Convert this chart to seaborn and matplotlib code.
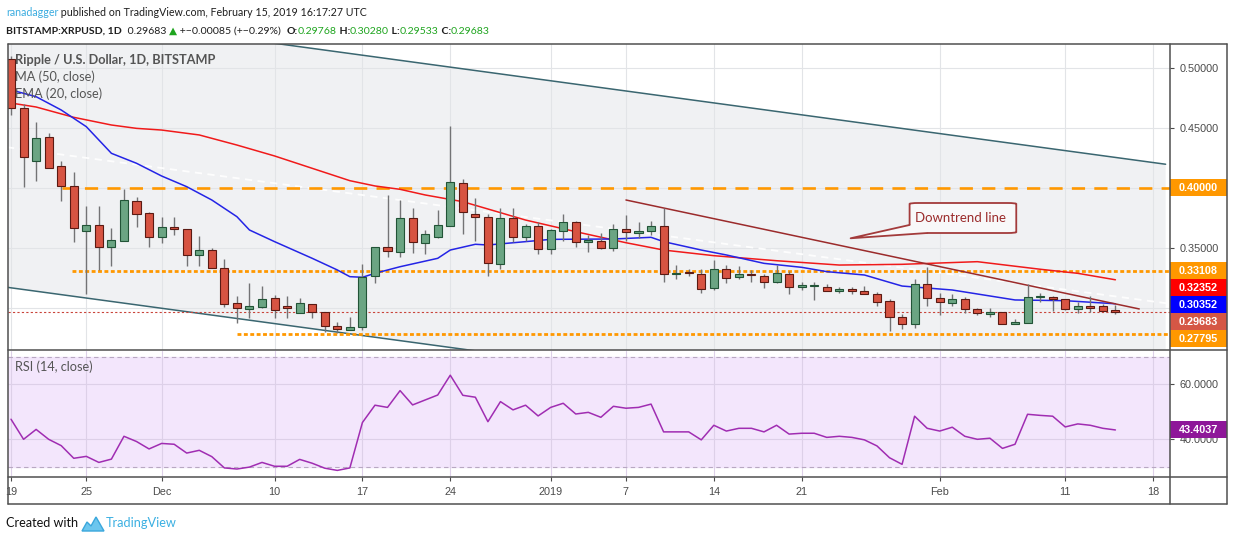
import numpy as np
import pandas as pd
import seaborn as sns
import matplotlib.pyplot as plt
from matplotlib.patches import Rectangle, Polygon, FancyBboxPatch
from matplotlib.lines import Line2D
from matplotlib.transforms import blended_transform_factory

W, H = 1234, 541

# ---------------- data (day 0 = 2018-11-19) ----------------
day = list(range(89))
opens = [0.5075, 0.4664, 0.4228, 0.4422, 0.4183, 0.4019, 0.3644, 0.3692, 0.3511, 0.3561,
         0.3889, 0.3789, 0.3589, 0.3672, 0.3656, 0.3442, 0.3483, 0.3331, 0.3039, 0.2989,
         0.3011, 0.3081, 0.3011, 0.2956, 0.3031, 0.2964, 0.2853, 0.2817, 0.2839, 0.3267,
         0.3511, 0.3464, 0.3747, 0.3539, 0.3594, 0.3686, 0.4039, 0.3781, 0.3761, 0.3364,
         0.3747, 0.3589, 0.3681, 0.3489, 0.3639, 0.3714, 0.3547, 0.3558, 0.3497, 0.3656,
         0.3622, 0.3639, 0.3681, 0.3281, 0.3294, 0.3281, 0.3164, 0.3322, 0.3258, 0.3275,
         0.3269, 0.3219, 0.3281, 0.3172, 0.3181, 0.3178, 0.3144, 0.3158, 0.3142, 0.3114,
         0.3058, 0.2928, 0.2864, 0.3197, 0.3081, 0.3039, 0.3075, 0.2989, 0.2947, 0.2964,
         0.2864, 0.2878, 0.3089, 0.3092, 0.3075, 0.2989, 0.3011, 0.3017, 0.29768]
highs = [0.5100, 0.4700, 0.4553, 0.4461, 0.4228, 0.4131, 0.3853, 0.3853, 0.3664, 0.3992,
         0.3928, 0.3797, 0.3761, 0.3761, 0.3656, 0.3603, 0.3497, 0.3408, 0.3100, 0.3206,
         0.3183, 0.3108, 0.3100, 0.3086, 0.3031, 0.2964, 0.2886, 0.2928, 0.3364, 0.3511,
         0.3942, 0.3900, 0.3831, 0.3650, 0.3817, 0.4517, 0.4072, 0.3914, 0.3783, 0.3831,
         0.3831, 0.3700, 0.3719, 0.3658, 0.3783, 0.3725, 0.3608, 0.3622, 0.3700, 0.3775,
         0.3719, 0.3725, 0.3831, 0.3358, 0.3322, 0.3322, 0.3400, 0.3358, 0.3350, 0.3317,
         0.3283, 0.3358, 0.3311, 0.3219, 0.3214, 0.3197, 0.3172, 0.3172, 0.3186, 0.3136,
         0.3072, 0.2947, 0.3242, 0.3339, 0.3122, 0.3114, 0.3089, 0.2997, 0.3003, 0.2964,
         0.2906, 0.3197, 0.3122, 0.3103, 0.3075, 0.3053, 0.3100, 0.3031, 0.30280]
lows = [0.4608, 0.4011, 0.4061, 0.4164, 0.3892, 0.3553, 0.3117, 0.3317, 0.3350, 0.3561,
        0.3678, 0.3506, 0.3539, 0.3608, 0.3353, 0.3353, 0.3331, 0.3011, 0.2872, 0.2914,
        0.2997, 0.2919, 0.2919, 0.2956, 0.2914, 0.2803, 0.2789, 0.2817, 0.2817, 0.3211,
        0.3428, 0.3428, 0.3461, 0.3450, 0.3581, 0.3686, 0.3617, 0.3561, 0.3269, 0.3322,
        0.3553, 0.3561, 0.3447, 0.3450, 0.3561, 0.3511, 0.3469, 0.3489, 0.3478, 0.3561,
        0.3581, 0.3611, 0.3214, 0.3239, 0.3267, 0.3122, 0.3150, 0.3206, 0.3239, 0.3219,
        0.3164, 0.3206, 0.3114, 0.3150, 0.3067, 0.3144, 0.3122, 0.3114, 0.3114, 0.3017,
        0.2811, 0.2822, 0.2836, 0.3017, 0.2942, 0.3017, 0.2956, 0.2942, 0.2928, 0.2864,
        0.2864, 0.2872, 0.3053, 0.2975, 0.2983, 0.2956, 0.2964, 0.2978, 0.29533]
closes = [0.4667, 0.4256, 0.4414, 0.4169, 0.4019, 0.3664, 0.3692, 0.3511, 0.3567, 0.3900,
          0.3781, 0.3589, 0.3672, 0.3656, 0.3442, 0.3483, 0.3331, 0.3031, 0.2997, 0.3017,
          0.3072, 0.2983, 0.3003, 0.3039, 0.2964, 0.2853, 0.2822, 0.2839, 0.3261, 0.3511,
          0.3475, 0.3747, 0.3547, 0.3614, 0.3689, 0.4047, 0.3797, 0.3761, 0.3372, 0.3747,
          0.3589, 0.3681, 0.3489, 0.3647, 0.3714, 0.3547, 0.3569, 0.3497, 0.3656, 0.3631,
          0.3639, 0.3681, 0.3281, 0.3289, 0.3289, 0.3156, 0.3322, 0.3247, 0.3281, 0.3272,
          0.3219, 0.3289, 0.3178, 0.3189, 0.3192, 0.3144, 0.3158, 0.3139, 0.3114, 0.3053,
          0.2928, 0.2864, 0.3197, 0.3081, 0.3047, 0.3072, 0.2989, 0.2956, 0.2967, 0.2864,
          0.2883, 0.3089, 0.3092, 0.3075, 0.2989, 0.3017, 0.3003, 0.2978, 0.29683]
rsi = [47.3, 40.0, 43.6, 40.0, 37.7, 33.1, 33.8, 31.6, 32.8, 41.1,
       39.2, 36.5, 38.5, 38.2, 35.0, 36.0, 33.7, 29.6, 29.2, 29.9,
       31.6, 30.2, 30.2, 32.7, 31.3, 29.5, 28.7, 29.6, 46.1, 52.4,
       51.6, 57.7, 52.5, 54.3, 56.1, 63.3, 56.0, 55.3, 46.4, 53.7,
       50.7, 52.4, 48.5, 51.6, 53.1, 49.2, 49.8, 48.0, 52.0, 51.3,
       51.6, 52.8, 42.7, 42.7, 42.7, 39.8, 45.1, 43.0, 44.0, 44.0,
       42.7, 45.1, 41.9, 42.2, 42.2, 40.7, 41.1, 40.7, 39.8, 37.6,
       33.3, 30.9, 48.4, 44.0, 43.0, 44.4, 41.1, 40.0, 40.4, 36.7,
       38.2, 49.1, 48.7, 48.4, 44.5, 45.6, 45.1, 44.0, 43.4037]

ma50_day = [0, 2, 5, 8, 10, 12, 15, 18, 21, 24, 27, 29, 31, 33, 36, 38, 41, 45, 49, 52,
            56, 61, 66, 71, 77, 82, 85, 88]
ma50_val = [0.4708, 0.4675, 0.4589, 0.4525, 0.4497, 0.4483, 0.4442, 0.4358, 0.4267, 0.4164,
            0.4061, 0.4017, 0.3989, 0.3942, 0.3886, 0.3825, 0.3733, 0.3636, 0.3544, 0.3483,
            0.3436, 0.3394, 0.3358, 0.3364, 0.3386, 0.3323, 0.3289, 0.32352]
ema20_day = [0, 2, 4, 6, 8, 10, 12, 14, 16, 18, 19, 21, 24, 26, 27, 28, 29, 31, 34, 35,
             37, 38, 41, 43, 48, 51, 52, 55, 57, 60, 63, 65, 68, 71, 75, 80, 84, 88]
ema20_val = [0.4817, 0.4761, 0.4650, 0.4511, 0.4289, 0.4206, 0.4100, 0.4011, 0.3900, 0.3761,
             0.3650, 0.3553, 0.3414, 0.3317, 0.3261, 0.3256, 0.3289, 0.3344, 0.3414, 0.3483,
             0.3531, 0.3525, 0.3553, 0.3572, 0.3575, 0.3589, 0.3553, 0.3483, 0.3442, 0.3372,
             0.3339, 0.3303, 0.3275, 0.3183, 0.3150, 0.3067, 0.3061, 0.30352]

tick_days = [0, 6, 12, 21, 28, 35, 43, 49, 56, 63, 74, 84, 91]
tick_labels = ["19", "25", "Dec", "10", "17", "24", "2019", "7", "14", "21", "Feb", "11", "18"]
price_ticks = [0.30, 0.35, 0.40, 0.45, 0.50]
price_tick_labels = ["", "0.35000", "", "0.45000", "0.50000"]  # others sit under the boxes
rsi_ticks = [40, 60]

# drawings on the chart
level_high = 0.40000
level_mid = 0.33108
level_low = 0.27795
channel_low = [(-0.34, 0.3173), (92.0, 0.1862)]
channel_high = [(-0.34, 0.5509), (92.0, 0.4198)]
downtrend = [(49.0, 0.3900), (89.9, 0.2992)]
faint_line = [(-0.32, 0.4340), (92.1, 0.3039)]

# ---------------- style ----------------
sns.set_theme(style="white")
plt.rcParams['font.family'] = ['Liberation Sans', 'DejaVu Sans']
LABEL_FONT = ['Lato', 'DejaVu Sans']
AXIS_GREY = "#4b4b4b"
UP, UP_EDGE = "#6ba583", "#225437"
DOWN, DOWN_EDGE = "#d75442", "#5b1a13"
ORANGE = "#ff9800"

fig = plt.figure(figsize=(W / 100, H / 100), dpi=100)
fig.patch.set_facecolor("white")


def fx(px):
    return px / W


def fy(py):
    return 1 - py / H


X0, X1 = -0.24, 92.35
ax = fig.add_axes([fx(8), fy(350), fx(1170) - fx(8), fy(44) - fy(350)])
axr = fig.add_axes([fx(8), fy(477), fx(1170) - fx(8), fy(351) - fy(477)])
for a in (ax, axr):
    a.set_facecolor("white")
    for s in a.spines.values():
        s.set_visible(False)

df = pd.DataFrame({"day": day, "open": opens, "high": highs, "low": lows,
                   "close": closes, "rsi": rsi})
df_ma = pd.DataFrame({"day": ma50_day, "val": ma50_val})
df_ema = pd.DataFrame({"day": ema20_day, "val": ema20_val})

# ---------------- price pane ----------------
cx = [channel_low[0][0], channel_low[1][0], channel_high[1][0], channel_high[0][0]]
cy = [channel_low[0][1], channel_low[1][1], channel_high[1][1], channel_high[0][1]]
ax.add_patch(Polygon(list(zip(cx, cy)), closed=True, facecolor="#f0f1f3",
                     edgecolor="none", zorder=0.2))
ax.set_axisbelow(True)
ax.grid(True, color="#e2e4e7", lw=0.8)

ax.plot([p[0] for p in channel_high], [p[1] for p in channel_high], color="#3a6670", lw=1.1, zorder=2)
ax.plot([p[0] for p in channel_low], [p[1] for p in channel_low], color="#3a6670", lw=1.1, zorder=2)
ax.plot([p[0] for p in faint_line], [p[1] for p in faint_line], color="white", lw=1.3,
        dashes=(4, 3), alpha=0.9, zorder=2)

ax.plot([4.06, X1], [level_high] * 2, color=ORANGE, lw=1.9, dashes=(5, 3.5), zorder=2.5)
ax.plot([4.86, X1], [level_mid] * 2, color=ORANGE, lw=2.0, dashes=(1.4, 0.9), zorder=2.5)
ax.plot([18.0, X1], [level_low] * 2, color=ORANGE, lw=2.0, dashes=(1.4, 0.9), zorder=2.5)
ax.plot([X0, X1], [closes[-1]] * 2, color="#c9443a", lw=0.8, dashes=(2, 2), zorder=2.5)

sns.lineplot(data=df_ma, x="day", y="val", ax=ax, color="#f01a1a", lw=1.1, zorder=3)
sns.lineplot(data=df_ema, x="day", y="val", ax=ax, color="#2424e6", lw=1.1, zorder=3)
ax.plot([p[0] for p in downtrend], [p[1] for p in downtrend], color="#9b2b2b", lw=1.1, zorder=3)

o = np.array(opens)
c = np.array(closes)
up = c >= o
ax.vlines(df["day"], df["low"], df["high"], color="#737375", lw=1.0, zorder=4)
ax.bar(df["day"], np.maximum(np.abs(c - o), 0.0012), bottom=np.minimum(o, c), width=0.64,
       color=np.where(up, UP, DOWN), edgecolor=np.where(up, UP_EDGE, DOWN_EDGE),
       lw=0.8, zorder=5)

# callout
ax.add_patch(FancyBboxPatch((71.6, 0.3625), 8.5, 0.0250,
                            boxstyle="round,pad=0,rounding_size=0.7",
                            mutation_aspect=0.0011,
                            facecolor="#f8f8f9", edgecolor="#a33b3b", lw=1.3, zorder=6))
tip, p1, p2 = (66.9, 0.3581), (71.6, 0.3692), (73.0, 0.3625)
ax.add_patch(Polygon([tip, p1, (72.2, 0.3680), (73.0, 0.3640), p2], closed=True,
                     facecolor="#f8f8f9", edgecolor="none", zorder=6.5))
ax.plot([p1[0], tip[0], p2[0]], [p1[1], tip[1], p2[1]], color="#a33b3b", lw=1.3, zorder=6.6)

ax.set_xlim(X0, X1)
ax.set_ylim(0.265, 0.52)
ax.set_xticks(tick_days)
ax.set_yticks(price_ticks)
ax.set_yticklabels(price_tick_labels)
ax.yaxis.tick_right()
ax.tick_params(axis="x", length=0, labelbottom=False)
ax.tick_params(axis="y", length=3, width=0.8, color=AXIS_GREY, pad=4,
               labelsize=7.8, labelcolor=AXIS_GREY)
ax.set_xlabel("")
ax.set_ylabel("")

# price scale boxes (stacked so they do not overlap, like the platform does)
trans = blended_transform_factory(fig.transFigure, ax.transData)
box_h = 17 / 1200
boxes = [(level_high, ORANGE), (level_mid, ORANGE), (ma50_val[-1], "#ff0000"),
         (ema20_val[-1], "#0000ff"), (closes[-1], "#d55745"), (level_low, ORANGE)]
prev = None
for val, col in boxes:
    pos = val if prev is None or prev - val >= box_h else prev - box_h
    prev = pos
    ax.add_patch(Rectangle((fx(1170), pos - box_h / 2), fx(1227) - fx(1170), box_h,
                           transform=trans, facecolor=col, edgecolor="none",
                           clip_on=False, zorder=10))
    ax.text(fx(1179), pos, f"{val:.5f}", transform=trans, color="white", fontsize=7.8,
            fontweight="bold", va="center", ha="left", clip_on=False, zorder=11)

# ---------------- RSI pane ----------------
axr.axhspan(30, 70, color="#f3e6fc", zorder=0.1)
axr.set_axisbelow(True)
axr.grid(True, color="#ddd0e8", lw=0.8)
axr.axhline(70, color="#b8a8c2", lw=0.8, dashes=(4, 3), zorder=1)
axr.axhline(30, color="#b8a8c2", lw=0.8, dashes=(4, 3), zorder=1)
sns.lineplot(data=df, x="day", y="rsi", ax=axr, color="#a02db2", lw=1.1, zorder=3)
axr.set_xlim(X0, X1)
axr.set_ylim(26.3, 72.1)
axr.set_xticks(tick_days)
axr.set_xticklabels(tick_labels)
axr.set_yticks(rsi_ticks)
axr.set_yticklabels([f"{v:.4f}" for v in rsi_ticks])
axr.yaxis.tick_right()
axr.tick_params(axis="x", length=3, width=0.8, color=AXIS_GREY, pad=4.5,
                labelsize=7.8, labelcolor=AXIS_GREY, bottom=True)
axr.tick_params(axis="y", length=3, width=0.8, color=AXIS_GREY, pad=4,
                labelsize=7.8, labelcolor=AXIS_GREY)
axr.set_xlabel("")
axr.set_ylabel("")
rtrans = blended_transform_factory(fig.transFigure, axr.transData)
rbox_h = 17 / 2.75
axr.add_patch(Rectangle((fx(1170), rsi[-1] - rbox_h / 2), fx(1227) - fx(1170), rbox_h,
                        transform=rtrans, facecolor="#8e1799", edgecolor="none",
                        clip_on=False, zorder=10))
axr.text(fx(1179), rsi[-1], f"{rsi[-1]:.4f}", transform=rtrans, color="white", fontsize=7.8,
         fontweight="bold", va="center", ha="left", clip_on=False, zorder=11)

# ---------------- frame ----------------
FRAME = "#505050"
for (xa, xb, ya, yb) in [(8, 1227, 44, 44), (8, 1227, 504, 504), (8, 1227, 350, 350),
                         (8, 1227, 477, 477), (8, 8, 44, 504), (1227, 1227, 44, 504),
                         (1170, 1170, 44, 504)]:
    fig.add_artist(Line2D([fx(xa), fx(xb)], [fy(ya), fy(yb)], transform=fig.transFigure,
                          color=FRAME, lw=1.1, zorder=20))

# ---------------- texts ----------------
renderer = fig.canvas.get_renderer()


def seg_widths(segs, size, family):
    out = []
    for s, col, wt in segs:
        t = fig.text(0, 0, "|" + s + "|", fontsize=size, fontweight=wt, family=family)
        b = fig.text(0, 0, "||", fontsize=size, fontweight=wt, family=family)
        out.append(t.get_window_extent(renderer).width - b.get_window_extent(renderer).width)
        t.remove()
        b.remove()
    return out


def chain_text(segs, x0, x1, yc, family=LABEL_FONT, zorder=25):
    base = 10.0
    size = base * (x1 - x0) / sum(seg_widths(segs, base, family))
    x = x0
    for (s, col, wt), wd in zip(segs, seg_widths(segs, size, family)):
        fig.text(fx(x), fy(yc), s, color=col, fontweight=wt, fontsize=size, family=family,
                 ha="left", va="center", zorder=zorder)
        x += wd


GREEN = "#1fa51f"
DARK = "#1e1e1e"
chain_text([("ranadagger", "#3aace0", "normal"),
            (" published on TradingView.com, February 15, 2019 16:17:27 UTC", DARK, "normal")],
           6, 368, 12)
chain_text([("BITSTAMP:XRPUSD, 1D", DARK, "bold"),
            (f"  {closes[-1]:.5f} ", DARK, "normal"),
            ("\u25b2", GREEN, "normal"),
            (" +\u2212" + f"{opens[-1] - closes[-1]:.5f}" + " (+\u22120.29%)  ", DARK, "normal"),
            ("O:", DARK, "bold"), (f"{opens[-1]:.5f}", GREEN, "normal"),
            (" H:", DARK, "bold"), (f"{highs[-1]:.5f}", GREEN, "normal"),
            (" L:", DARK, "bold"), (f"{lows[-1]:.5f}", GREEN, "normal"),
            (" C:", DARK, "bold"), (f"{closes[-1]:.5f}", GREEN, "normal")],
           6, 486, 31)

LEG = "#555555"
chain_text([("Ripple / U.S. Dollar, 1D, BITSTAMP", LEG, "bold")], 15, 216, 60, zorder=3)
chain_text([("MA (50, close)", LEG, "normal")], 15, 95, 77, zorder=3)
chain_text([("EMA (20, close)", LEG, "normal")], 15, 102, 94, zorder=3)
chain_text([("RSI (14, close)", LEG, "normal")], 15, 93, 367)
chain_text([("Downtrend line", "#9b2c2c", "normal")], 915, 1006, 218)

chain_text([("Created with", "#111111", "normal")], 6, 78, 523)
chain_text([("TradingView", "#3cb0e2", "normal")], 106, 177, 523)
fig.add_artist(Polygon([(fx(82), fy(531)), (fx(87), fy(522)), (fx(91), fy(526)),
                        (fx(96), fy(517)), (fx(104), fy(531))], closed=True,
                       transform=fig.transFigure, facecolor="#6cc6ee", edgecolor="#3aa7dc",
                       lw=1.0, zorder=25))

fig.savefig("out.png", dpi=100, facecolor="white")
